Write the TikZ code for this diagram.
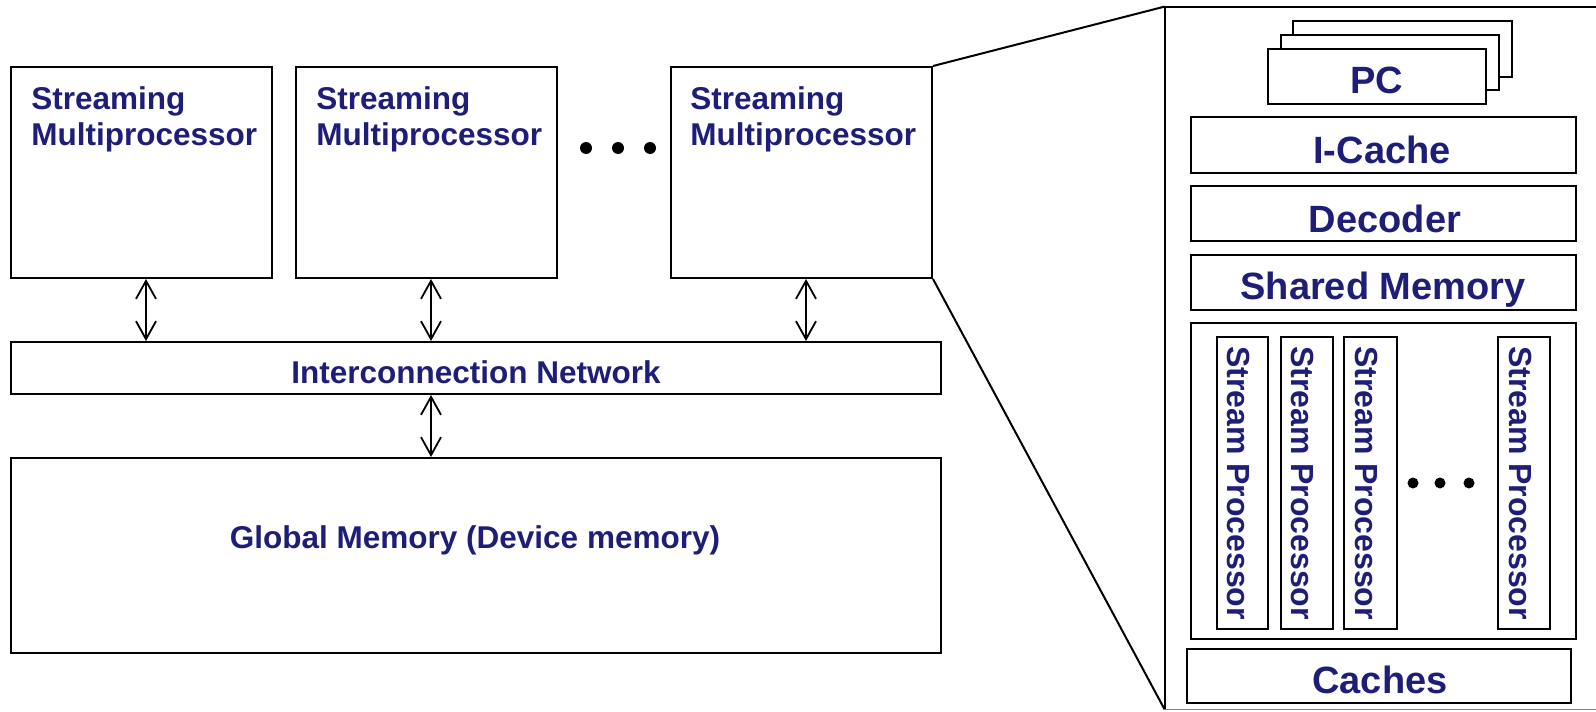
\documentclass[tikz,border=0pt]{standalone}
\usepackage{fontspec}
\setmainfont{Liberation Sans}
\usetikzlibrary{fit,arrows.meta}
\definecolor{navy}{RGB}{30,30,120}
\begin{document}
\begin{tikzpicture}[x=0.5pt,y=-0.5pt,
  box/.style={draw, line width=1pt, inner sep=0pt, fill=white},
  smlbl/.style={text=navy, font=\bfseries\fontsize{15.75}{18}\selectfont, inner sep=0pt, align=left},
  lbl/.style={text=navy, font=\bfseries\fontsize{15.75}{18}\selectfont, inner sep=0pt},
  biglbl/.style={text=navy, font=\bfseries\fontsize{19}{22}\selectfont, inner sep=0pt},
  splbl/.style={text=navy, font=\bfseries\fontsize{16}{19}\selectfont, inner sep=0pt, rotate=-90},
  link/.style={line width=0.8pt, {Straight Barb[length=9pt,width=10pt,line width=0.9pt]}-{Straight Barb[length=9pt,width=10pt,line width=0.9pt]}},
  dot/.style={circle, fill=black, inner sep=0pt, minimum size=6pt},
  sdot/.style={circle, fill=black, inner sep=0pt, minimum size=5.5pt},
  zoomline/.style={line width=1pt}
]
\useasboundingbox (0,0) rectangle (1596,712);

% Streaming multiprocessors
\node[box, fit={(11,67)(272,278)}] (sm1) {};
\node[box, fit={(296,67)(557,278)}] (sm2) {};
\node[box, fit={(671,67)(932,278)}] (sm3) {};
\node[smlbl, anchor=north west] (sm1t) at ([xshift=10.5pt,yshift=-10pt]sm1.north west) {Streaming\\Multiprocessor};
\node[smlbl, anchor=north west] (sm2t) at ([xshift=10.5pt,yshift=-10pt]sm2.north west) {Streaming\\Multiprocessor};
\node[smlbl, anchor=north west] (sm3t) at ([xshift=10pt,yshift=-10pt]sm3.north west) {Streaming\\Multiprocessor};

% dots between SMs
\node[dot] (d1) at (586,148) {};
\node[dot] (d2) at (618,148) {};
\node[dot] (d3) at (650,148) {};

% interconnection network
\node[box, fit={(11,342)(941,394)}] (net) {};
\node[lbl, anchor=base] (nett) at (476,383) {Interconnection Network};

% global memory
\node[box, fit={(11,458)(941,653)}] (gm) {};
\node[lbl, anchor=base] (gmt) at (475,548) {Global Memory (Device memory)};

% arrows
\draw[link] ([xshift=2.25pt]sm1.south) -- ([xshift=2.25pt]sm1.south |- net.north);
\draw[link] ([xshift=2.25pt]sm2.south) -- ([xshift=2.25pt]sm2.south |- net.north);
\draw[link] ([xshift=2.25pt]sm3.south) -- ([xshift=2.25pt]sm3.south |- net.north);
\draw[link] ([xshift=2.25pt]sm2.south |- net.south) -- ([xshift=2.25pt]sm2.south |- gm.north);

% detail panel
\node[inner sep=0pt, fit={(1165,7)(1620,709)}] (panel) {};
\draw[zoomline] (panel.north east) -- (panel.north west) -- (panel.south west);
\draw[line width=0.6pt, gray] (panel.south west) -- (panel.south east);
\draw[zoomline] (sm3.north east) -- (panel.north west);
\draw[zoomline] (sm3.south east) -- (panel.south west);

% PC stack
\node[box, fit={(1293,21)(1512,77)}] (pc3) {};
\node[box, fit={(1281,35)(1499,90)}] (pc2) {};
\node[box, fit={(1268,49)(1486,104)}] (pc1) {};
\node[biglbl, anchor=base] (pct) at (1377,93) {PC};

\node[box, fit={(1191,117)(1576,173)}] (ic) {};
\node[biglbl, anchor=base] (ict) at (1382,163) {I-Cache};
\node[box, fit={(1191,186)(1576,241)}] (dec) {};
\node[biglbl, anchor=base] (dect) at (1385,232) {Decoder};
\node[box, fit={(1191,255)(1576,310)}] (shm) {};
\node[biglbl, anchor=base] (shmt) at (1383,299) {Shared Memory};

% stream processors
\node[box, fit={(1191,323)(1576,639)}] (spc) {};
\node[box, fit={(1217,337)(1268,629)}] (sp1) {};
\node[box, fit={(1281,337)(1333,629)}] (sp2) {};
\node[box, fit={(1344,337)(1397,629)}] (sp3) {};
\node[box, fit={(1498,337)(1550,629)}] (sp4) {};
\node[splbl] (sp1t) at ([xshift=-2pt]sp1.center) {Stream Processor};
\node[splbl] (sp2t) at ([xshift=-2pt]sp2.center) {Stream Processor};
\node[splbl] (sp3t) at ([xshift=-2pt]sp3.center) {Stream Processor};
\node[splbl] (sp4t) at ([xshift=-2pt]sp4.center) {Stream Processor};
\node[sdot] (e1) at (1413,483) {};
\node[sdot] (e2) at (1440,483) {};
\node[sdot] (e3) at (1469,483) {};

% caches
\node[box, fit={(1187,649)(1571,703)}] (cache) {};
\node[biglbl, anchor=base] (cachet) at (1380,693) {Caches};
\end{tikzpicture}
\end{document}
